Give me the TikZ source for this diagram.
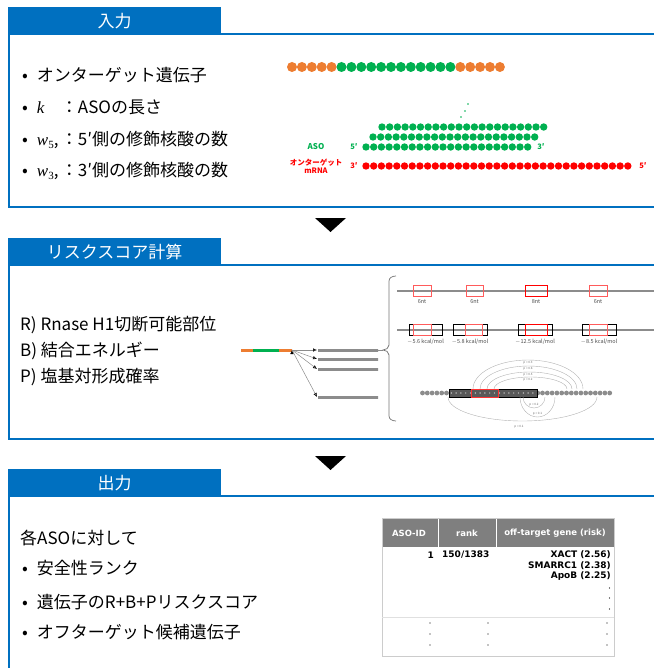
\documentclass[tikz,border=0pt]{standalone}
\usepackage{fontspec}
\setmainfont{Noto Sans CJK JP}
\newfontfamily\tblfont{DejaVu Sans}
\newfontfamily\varfont{Liberation Serif}
\usetikzlibrary{arrows.meta}
\definecolor{secblue}{HTML}{0070C0}
\definecolor{asogreen}{HTML}{00B050}
\definecolor{flank}{HTML}{ED7D31}
\definecolor{rnared}{HTML}{FF0000}
\definecolor{sitered}{HTML}{FF5B5B}
\definecolor{hdrgray}{HTML}{7F7F7F}
\definecolor{chain}{HTML}{8C8C8C}
\newcommand{\vari}[1]{{\varfont\itshape #1}}
\newcommand{\varsub}[2]{{\varfont\itshape #1}\raisebox{-3pt}{\varfont\fontsize{11}{11}\selectfont #2}}
\tikzset{
  frame/.style={draw=secblue, line width=2pt},
  tab/.style={fill=secblue, text=white, inner sep=0pt, anchor=north west, minimum width=213pt, minimum height=27pt, font=\fontsize{17}{20}\selectfont},
  item/.style={anchor=west, inner sep=0pt, font=\fontsize{17}{20}\selectfont},
  tiny/.style={inner sep=0pt, font=\fontsize{5.5}{6}\selectfont, text=black!70},
  plab/.style={inner sep=0pt, font=\fontsize{3}{3}\selectfont, text=black!60},
  tcell/.style={inner sep=0pt, font=\tblfont\bfseries\fontsize{9}{10}\selectfont},
  thead/.style={inner sep=0pt, text=white, font=\tblfont\bfseries\fontsize{8.5}{10}\selectfont},
}
\begin{document}
\begin{tikzpicture}[x=1pt,y=-1pt]
\useasboundingbox (0,0) rectangle (653,668);
\draw[frame] (9,34) rectangle (665,207);
\draw[frame] (9,265) rectangle (665,439);
\draw[frame] (9,496) rectangle (665,690);
\node[tab] (tabin) at (8,7) {入力};
\node[tab] (tabrisk) at (8,238) {リスクスコア計算};
\node[tab] (tabout) at (8,469) {出力};
\fill (315,218) -- (346,218) -- (330.5,232) -- cycle;
\fill (315,456) -- (346,456) -- (330.5,470) -- cycle;

% input
\node[item] (in1) at (22,75) {•\hspace{9pt}オンターゲット遺伝子};
\node[item] (in2) at (22,107) {•\hspace{9pt}\makebox[24pt][l]{\vari{k}}：ASOの長さ};
\node[item] (in3) at (22,140) {•\hspace{9pt}\makebox[24pt][l]{\varsub{w}{5},}：5′側の修飾核酸の数};
\node[item] (in4) at (22,171) {•\hspace{9pt}\makebox[24pt][l]{\varsub{w}{3},}：3′側の修飾核酸の数};

\foreach \i in {0,...,21} {
  \ifnum\i<5 \def\c{flank}\else\ifnum\i>16 \def\c{flank}\else\def\c{asogreen}\fi\fi
  \fill[\c] (292+\i*9.9,67) circle (5);
}
\foreach \i in {0,...,21} {
  \fill[asogreen] (382+\i*7.7,127) circle (3.7);
  \fill[asogreen] (373+\i*7.7,137) circle (3.7);
  \fill[asogreen] (366+\i*7.7,147) circle (3.7);
}
\foreach \i in {0,...,34}
  \fill[rnared] (366+\i*7.7,166) circle (3.7);
\foreach \p in {(468,104),(465,111),(461,117)}
  \fill[asogreen] \p circle (0.9);
\node[font=\bfseries\fontsize{8}{9}\selectfont, text=asogreen] (asolab) at (316,147) {ASO};
\node[font=\bfseries\fontsize{7.5}{8}\selectfont, text=asogreen] (aso5) at (354,147) {5′};
\node[font=\bfseries\fontsize{7.5}{8}\selectfont, text=asogreen] (aso3) at (541,147) {3′};
\node[font=\bfseries\fontsize{7.5}{8.5}\selectfont, text=rnared, align=center] (rnalab) at (316,166) {オンターゲット\\mRNA};
\node[font=\bfseries\fontsize{7.5}{8}\selectfont, text=rnared] (rna3) at (354,166) {3′};
\node[font=\bfseries\fontsize{7.5}{8}\selectfont, text=rnared] (rna5) at (643,166) {5′};

% risk score
\node[item] (rr) at (20,325) {R) Rnase H1切断可能部位};
\node[item] (rb) at (20,351) {B) 結合エネルギー};
\node[item] (rp) at (20,377) {P) 塩基対形成確率};

\draw[flank, line width=3pt] (241,350) -- (253,350);
\draw[asogreen, line width=3pt] (253,350) -- (279,350);
\draw[flank, line width=3pt] (279,350) -- (292,350);
\coordinate (fork) at (292,350);
\coordinate (t1) at (317,350);
\coordinate (t2) at (317,359);
\coordinate (t3) at (317,369);
\coordinate (t4) at (317,397);
\draw[chain, line width=0.5pt, -{Latex[black,length=4pt,width=3.5pt]}] (fork) edge (t1) edge (t2) edge (t3) edge (t4);
\foreach \y in {350,359,369,397}
  \draw[chain, line width=3pt, dash pattern=on 1.6pt off 0.4pt] (318,\y) -- (378,\y);
\draw[chain, line width=0.6pt] (378,350) -- (383,350);
\draw[black!55, line width=0.7pt] (396,276) to[out=180,in=90] (389,281) -- (389,345)
  to[out=-90,in=0] (383,350) to[out=0,in=90] (389,355) -- (389,416) to[out=-90,in=180] (396,421);

% R row
\draw[chain, line width=2pt] (397,291) -- (660,291);
\foreach \a/\b/\c/\t in {413/431/sitered/6nt,466/483/sitered/6nt,525/547/rnared/8nt,589/607/sitered/6nt} {
  \draw[\c, line width=1pt] (\a,285.5) rectangle (\b,296.5);
  \node[tiny] at ({(\a+\b)/2},302) {\t};
}
% B row
\draw[chain, line width=2pt] (397,330) -- (660,330);
\foreach \a/\b/\c/\d/\e/\t in {409/442/413/431/sitered/{$-$5.6 kcal/mol},453/487/465/482/sitered/{$-$5.8 kcal/mol},518/552/525/547/rnared/{$-$12.5 kcal/mol},582/616/589/607/sitered/{$-$8.5 kcal/mol}} {
  \draw[black, line width=1pt] (\a,324.5) rectangle (\b,335.5);
  \draw[\e, line width=1pt] (\c,324.5) rectangle (\d,335.5);
  \node[tiny] at ({(\a+\b)/2},342) {\t};
}
% P row
\foreach \i in {0,...,39}
  \fill[chain] (422.5+\i*4.8,393) circle (2.4);
\fill[black!65] (449,389) rectangle (537,397);
\foreach \i in {6,...,23}
  \fill[white!85!black] (422.5+\i*4.8,393) circle (0.7);
\draw[black, line width=0.8pt] (449,389) rectangle (537,397);
\draw[rnared!80, line width=0.8pt] (471,389) rectangle (498,397);
\begin{scope}[black!30, line width=0.4pt]
\draw (473,389) arc[start angle=180, end angle=360, x radius=55, y radius=29];
\draw (480,389) arc[start angle=180, end angle=360, x radius=48.5, y radius=23];
\draw (487,389) arc[start angle=180, end angle=360, x radius=42.5, y radius=17];
\draw (494,389) arc[start angle=180, end angle=360, x radius=36.5, y radius=12];
\draw (523,397) arc[start angle=180, end angle=0, x radius=11, y radius=11];
\draw (520,397) arc[start angle=180, end angle=0, x radius=17.5, y radius=20];
\draw (448,397) arc[start angle=180, end angle=0, x radius=74.5, y radius=24];
\end{scope}
\node[plab] (p1) at (528,362.5) {p = 0.3};
\node[plab] (p2) at (528,368.5) {p = 0.6};
\node[plab] (p3) at (528,374.5) {p = 0.5};
\node[plab] (p4) at (528,379.5) {p = 0.2};
\node[plab] (p5) at (534,405) {p = 0.2};
\node[plab] (p6) at (537.5,413.5) {p = 0.1};
\node[plab] (p7) at (519,427) {p = 0.1};

% output
\node[item] (ohead) at (20,538) {各ASOに対して};
\node[item] (o1) at (22,568) {•\hspace{9pt}安全性ランク};
\node[item] (o2) at (22,602) {•\hspace{9pt}遺伝子のR+B+Pリスクスコア};
\node[item] (o3) at (22,632) {•\hspace{9pt}オフターゲット候補遺伝子};

\fill[hdrgray] (382,518) rectangle (614,547);
\draw[white, line width=0.8pt] (438,518) -- (438,547) (496,518) -- (496,547);
\draw[black!20, line width=0.6pt] (382,518) rectangle (614,656);
\draw[black!12, line width=0.6pt] (382,617) -- (614,617);
\node[thead] (hid) at (409,533) {ASO-ID};
\node[thead] (hrank) at (467,533) {rank};
\node[thead] (hgene) at (555,533) {off-target gene (risk)};
\node[tcell, anchor=east] (id1) at (434,555) {1};
\node[tcell, anchor=west] (rank1) at (442,555) {150/1383};
\node[tcell, anchor=east] (g1) at (611,555) {XACT (2.56)};
\node[tcell, anchor=east] (g2) at (611,565.5) {SMARRC1 (2.38)};
\node[tcell, anchor=east] (g3) at (611,576) {ApoB (2.25)};
\foreach \y in {588,598,609}
  \fill (609.5,\y) circle (0.7);
\foreach \y in {623,634,645} {
  \fill (430,\y) circle (0.7);
  \fill (488,\y) circle (0.7);
  \fill (607,\y) circle (0.7);
}
\end{tikzpicture}
\end{document}
